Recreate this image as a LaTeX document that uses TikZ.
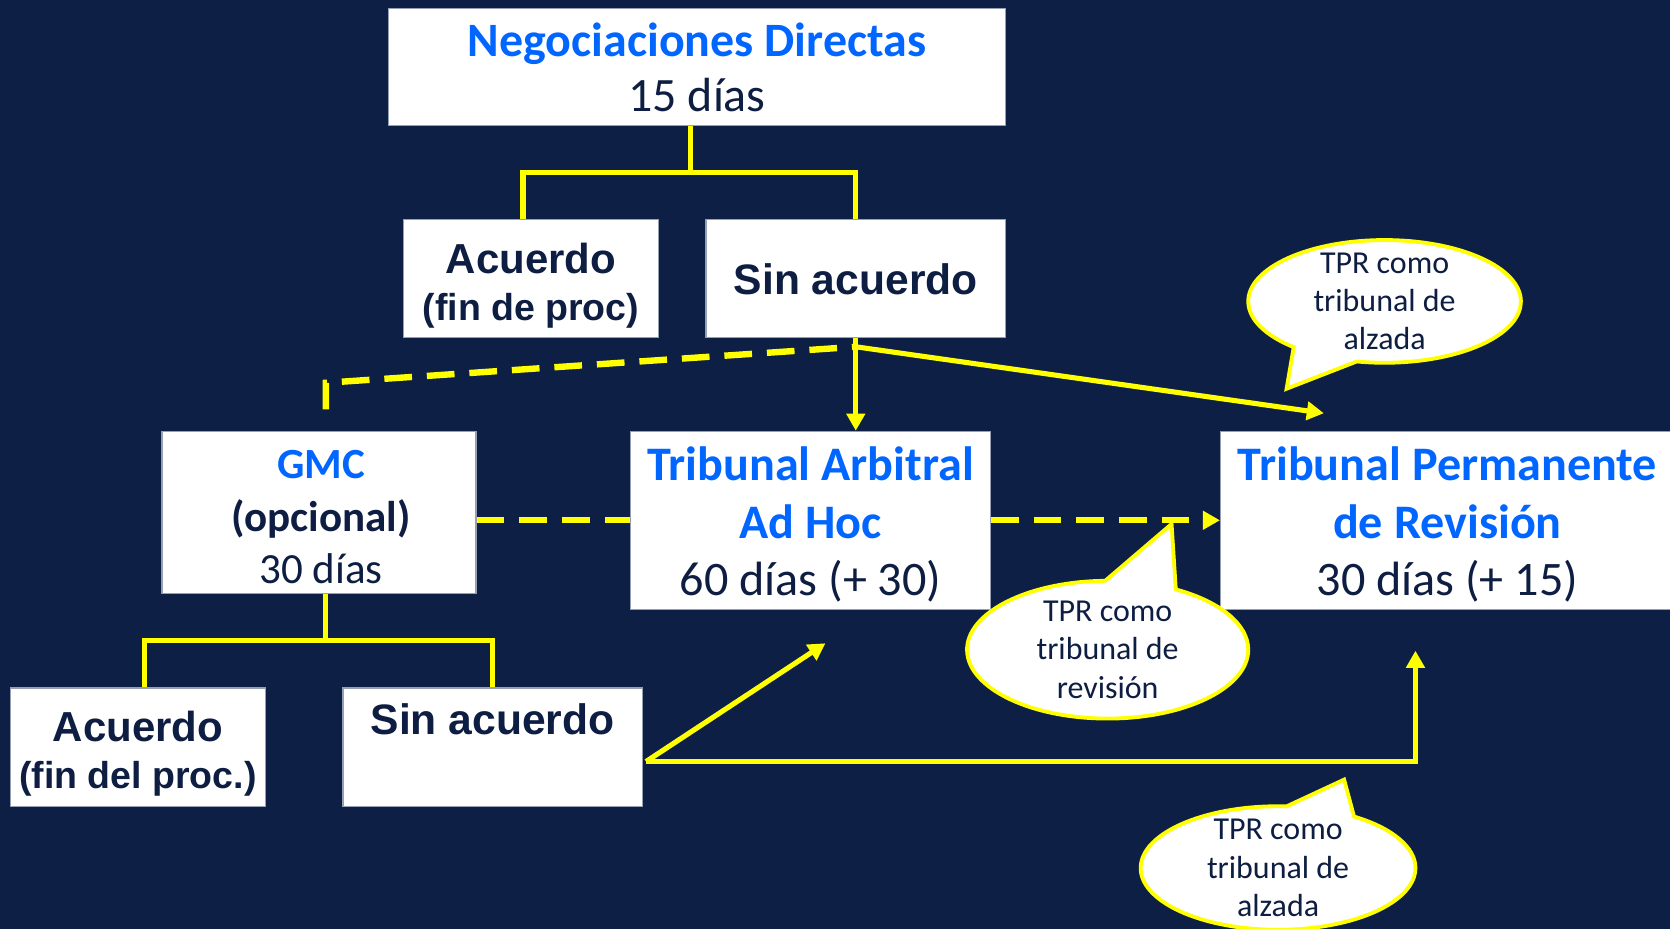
\documentclass[tikz,border=0pt]{standalone}
\usepackage{fontspec}
\usetikzlibrary{arrows.meta,shapes.callouts,shapes.geometric,calc}
\newfontfamily\carlito{Carlito}
\newfontfamily\arialf{Liberation Sans}
\definecolor{bg}{RGB}{13,31,69}
\definecolor{dark}{RGB}{14,30,66}
\definecolor{tblue}{RGB}{0,102,255}
\definecolor{ylw}{RGB}{255,255,0}
\definecolor{boxline}{RGB}{150,160,180}
\tikzset{
  box/.style={fill=white, draw=boxline, line width=0.6pt, inner sep=0pt, align=center, text=dark},
  boxtxt/.style={align=center, text=dark, inner sep=0pt},
  conn/.style={draw=ylw, line width=2.4pt},
  dsh/.style={draw=ylw, line width=3pt, dash pattern=on 13pt off 7pt},
  arr/.style={-{Triangle[length=8pt,width=8.5pt]}},
  bubble/.style={ellipse callout, draw=ylw, line width=1.8pt, fill=white, inner sep=0pt,
    callout pointer arc=30, align=center, text=dark,
    font=\carlito\fontsize{15}{18}\selectfont},
}
\begin{document}
\begin{tikzpicture}[x=0.5pt,y=-0.5pt]
\fill[bg] (0,0) rectangle (1568,872);
\useasboundingbox (0,0) rectangle (1568,872);

% boxes
\node[box, minimum width=289.5pt, minimum height=55pt,
  label={[boxtxt, font=\carlito\fontsize{22.5}{26}\selectfont]center:{{\bfseries\color{tblue}Negociaciones Directas}\\15 días}}]
  (nd) at (654.5,63) {};
\node[box, minimum width=119.5pt, minimum height=55.5pt,
  label={[boxtxt, yshift=-3.25pt, font=\arialf\bfseries\fontsize{19.7}{22}\selectfont]center:{Acuerdo\\{\fontsize{17.6}{22}\selectfont (fin de proc)}}}]
  (acu1) at (498.5,261.5) {};
\node[box, minimum width=140.5pt, minimum height=55.5pt,
  label={[boxtxt, yshift=-0.5pt, font=\arialf\bfseries\fontsize{20}{22}\selectfont]center:{Sin acuerdo}}]
  (sin1) at (803.5,261.5) {};
\node[box, minimum width=147.5pt, minimum height=76pt,
  label={[boxtxt, yshift=-2.25pt, xshift=1pt, font=\carlito\fontsize{20.2}{24.5}\selectfont]center:{{\bfseries\color{tblue}GMC}\\{\bfseries (opcional)}\\30 días}}]
  (gmc) at (299.5,481) {};
\node[box, minimum width=169pt, minimum height=83.5pt,
  label={[boxtxt, yshift=-2pt, font=\carlito\fontsize{22.6}{27}\selectfont]center:{{\bfseries\color{tblue}Tribunal Arbitral}\\{\bfseries\color{tblue}Ad Hoc}\\60 días (+ 30)}}]
  (ta) at (761,488.5) {};
\node[box, minimum width=213pt, minimum height=83.5pt,
  label={[boxtxt, yshift=-2pt, font=\carlito\fontsize{22.6}{27}\selectfont]center:{{\bfseries\color{tblue}Tribunal Permanente}\\{\bfseries\color{tblue}de Revisión}\\30 días (+ 15)}}]
  (tpr) at (1359,488.5) {};
\node[box, minimum width=119.5pt, minimum height=55.5pt,
  label={[boxtxt, yshift=-3.25pt, font=\arialf\bfseries\fontsize{19.7}{22}\selectfont]center:{Acuerdo\\{\fontsize{17.6}{22}\selectfont (fin del proc.)}}}]
  (acu2) at (129.5,701.5) {};
\node[box, minimum width=140.5pt, text height=22pt, text depth=33.5pt, font=\arialf\bfseries\fontsize{20}{22}\selectfont]
  (sin2) at (462.5,701.5) {Sin acuerdo};

% connectors: top tree
\draw[conn] ($(nd.south)+(-6.5,0)$) -- ++(0,43) coordinate (j1);
\draw[conn] ($(acu1.north)+(-7.5,0)$) |- (j1) -| (sin1.north);

% from Sin acuerdo
\coordinate (s1) at ($(sin1.south)+(0,8)$);
\coordinate (gd) at ($(gmc.north)+(6.5,-20)$);
\coordinate (tipA) at (1243,388);
\draw[dsh] (gd) -- ++(0,-25) -- (s1);
\draw[conn, arr] (sin1.south) -- (sin1.south |- ta.north);
\draw[conn, arr] (s1) -- (tipA);

% horizontal dashed links
\draw[dsh] (gmc.east |- ta.west) -- (ta.west);
\draw[dsh, arr] (ta.east) -- (tpr.west);

% GMC tree
\draw[conn] ($(gmc.south)+(6.5,0)$) -- ++(0,44) coordinate (j2);
\draw[conn] ($(acu2.north)+(6.5,0)$) |- (j2) -| (sin2.north);

% from second Sin acuerdo
\coordinate (s2) at ($(sin2.east)+(3,13.5)$);
\coordinate (tipB) at (775,604);
\coordinate (tipC) at (1329,611);
\draw[conn, arr] (s2) -- (tipB);
\draw[conn, arr] (s2) -| (tipC);

% callouts
\node[bubble, inner ysep=-2.5pt, minimum width=128pt, minimum height=57pt, callout absolute pointer={(1208,365)}]
  (c1) at (1300,283) {TPR como\\tribunal de\\alzada};
\node[bubble, minimum width=132pt, minimum height=64pt, callout absolute pointer={(1100,492)}]
  (c2) at (1040,610) {TPR como\\tribunal de\\revisión};
\node[bubble, inner ysep=-2.5pt, minimum width=129pt, minimum height=58pt, callout absolute pointer={(1262,732)}]
  (c3) at (1200,815) {TPR como\\tribunal de\\alzada};
\end{tikzpicture}
\end{document}
